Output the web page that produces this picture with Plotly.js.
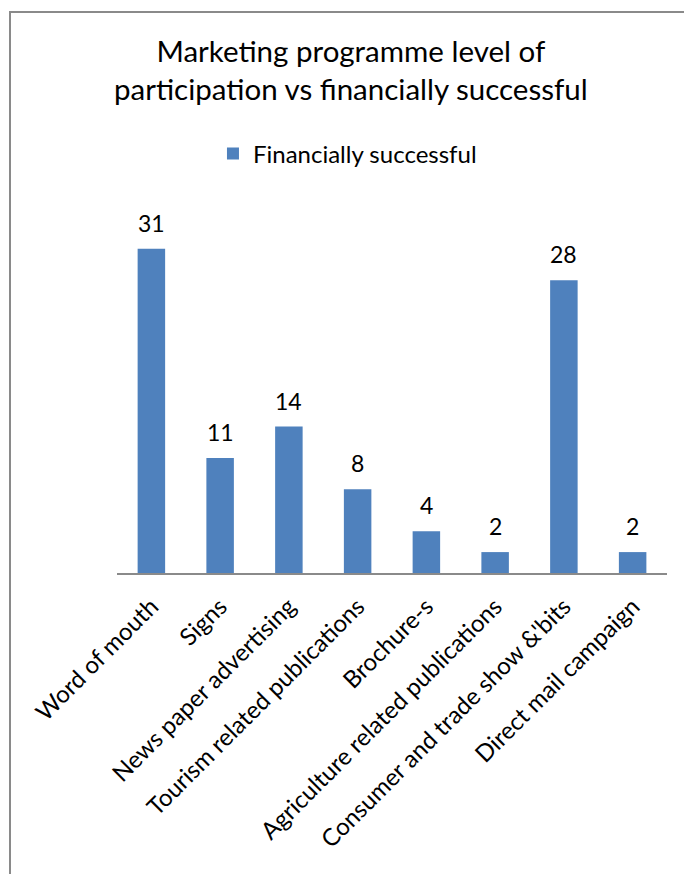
<!DOCTYPE html>
<html>
<head>
<meta charset="utf-8">
<script src="https://cdn.plot.ly/plotly-3.0.1.min.js"></script>
<style>
html,body{margin:0;padding:0;background:#fff;}
#wrap{position:relative;width:684px;height:874px;}
#frame{position:absolute;left:9px;top:11px;width:700px;height:900px;border-left:2px solid #8a8a8a;border-top:2px solid #8a8a8a;pointer-events:none;}
#chart{position:absolute;left:0;top:0;width:684px;height:874px;}
</style>
</head>
<body>
<div id="wrap"><div id="chart"></div><div id="frame"></div></div>
<script>
const categories = ["Word of mouth","Signs","News paper advertising","Tourism related publications","Brochure-s","Agriculture related publications","Consumer and trade show &'bits","Direct mail campaign"];
const financiallySuccessful = [31, 11, 14, 8, 4, 2, 28, 2];
const seriesName = "Financially successful";

const FONT = "Lato, 'Open Sans', sans-serif";

const trace = {
  type: "bar",
  x: categories,
  y: financiallySuccessful,
  name: seriesName,
  marker: {color: "#4F81BD"},
  showlegend: true
};

const labels = categories.map((c, i) => ({
  x: c, y: financiallySuccessful[i], xref: "x", yref: "y",
  text: String(financiallySuccessful[i]),
  showarrow: false, yanchor: "bottom", yshift: 10,
  font: {family: FONT, size: 23, color: "#000"}
}));

const layout = {
  width: 684, height: 874,
  margin: {l: 117, r: 17, t: 207, b: 301},
  paper_bgcolor: "#fff", plot_bgcolor: "#fff",
  font: {family: FONT, color: "#000"},
  title: {
    text: "Marketing programme level of<br>participation vs financially successful",
    font: {family: FONT, size: 29.5, color: "#000"},
    x: 0.513, xref: "container", xanchor: "center",
    y: 0.929, yref: "container", yanchor: "middle"
  },
  showlegend: true,
  legend: {
    orientation: "h", x: 0.508, xref: "container", xanchor: "center",
    y: 0.824, yref: "container", yanchor: "middle",
    font: {family: FONT, size: 24, color: "#000"},
    itemwidth: 30
  },
  annotations: labels,
  bargap: 0.6,
  xaxis: {
    type: "category",
    tickangle: -45,
    tickfont: {family: FONT, size: 24, color: "#000"},
    ticklabelstandoff: 8,
    showline: true, linecolor: "#8a8a8a", linewidth: 2,
    ticks: "", showgrid: false, zeroline: false, fixedrange: true
  },
  yaxis: {
    range: [0, 35], visible: false, showgrid: false, zeroline: false, fixedrange: true
  }
};

Plotly.newPlot("chart", [trace], layout, {displayModeBar: false, staticPlot: true});
</script>
</body>
</html>
